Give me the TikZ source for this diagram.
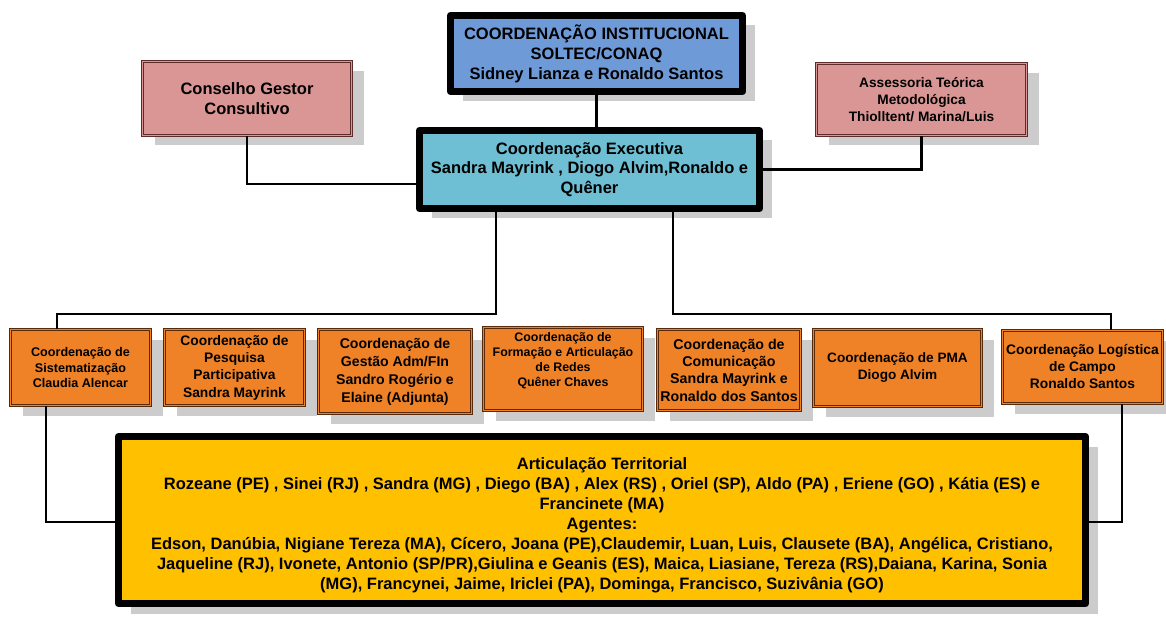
\documentclass[tikz,border=0pt]{standalone}
\usepackage{fontspec}
\setmainfont{Liberation Sans}
\usetikzlibrary{shadows}

\definecolor{instblue}{HTML}{6F9AD8}
\definecolor{execteal}{HTML}{6EBFD3}
\definecolor{conspink}{HTML}{D99694}
\definecolor{pinkedge}{HTML}{5C2B2A}
\definecolor{coordorange}{HTML}{EF8227}
\definecolor{orangeedge}{HTML}{5A2A08}
\definecolor{terryellow}{HTML}{FFC000}
\definecolor{shadowgray}{HTML}{CCCCCC}

\newcommand{\fsize}[2]{\bfseries\fontsize{#1}{#2}\selectfont}

\tikzset{
  boxshadow/.style={drop shadow={shadow xshift=12pt,shadow yshift=-10pt,fill=shadowgray,opacity=1}},
  heavybox/.style={rectangle,draw=black,line width=7pt,line join=round,inner sep=0pt,boxshadow,align=center},
  thinbox/.style={rectangle,line width=0.8pt,double distance=1.6pt,inner sep=0pt,boxshadow,align=center},
  pinkbox/.style={thinbox,draw=pinkedge,fill=conspink,double=conspink},
  orangebox/.style={thinbox,draw=orangeedge,fill=coordorange,double=coordorange},
  link/.style={draw=black,line width=2.5pt},
}

\begin{document}
\begin{tikzpicture}[x=1pt,y=-1pt]
\useasboundingbox (0,0) rectangle (1166,617);

% The upper level
\node[heavybox,fill=instblue,minimum width=292,minimum height=76,font=\fsize{16.5}{20}] (inst) at (596.5,53.5)
  {COORDENAÇÃO INSTITUCIONAL\\SOLTEC/CONAQ\\Sidney Lianza e Ronaldo Santos};
\node[pinkbox,minimum width=209,minimum height=74,font=\fsize{16.5}{20}] (cons) at (247,98.5)
  {Conselho Gestor\\Consultivo};
\node[pinkbox,minimum width=210,minimum height=72,font=\fsize{13.7}{17}] (asse) at (921.5,99.5)
  {Assessoria Teórica\\Metodológica\\Thiolltent/ Marina/Luis};
\node[heavybox,fill=execteal,minimum width=340,minimum height=78,font=\fsize{16.5}{19.5}] (exec) at (589.5,169.5)
  {Coordenação Executiva\\Sandra Mayrink , Diogo Alvim,Ronaldo e\\Quêner};

% The coordinations
\node[orangebox,minimum width=140,minimum height=76,font=\fsize{12.6}{15.5}] (sist) at (80.5,367.5)
  {Coordenação de\\Sistematização\\Claudia Alencar};
\node[orangebox,minimum width=140,minimum height=76,font=\fsize{13.8}{17.3}] (pesq) at (234.5,367.5)
  {Coordenação de\\Pesquisa\\Participativa\\Sandra Mayrink};
\node[orangebox,minimum width=153,minimum height=84,font=\fsize{14.1}{18}] (gest) at (395,371.5)
  {Coordenação de\\Gestão Adm/FIn\\Sandro Rogério e\\Elaine (Adjunta)};
\node[orangebox,minimum width=159,minimum height=83,font=\fsize{12.4}{15}] (form) at (563,369)
  {Coordenação de\\Formação e Articulação\\de Redes\\Quêner Chaves\\[4pt]\mbox{}};
\node[orangebox,minimum width=143,minimum height=81,font=\fsize{14.2}{17.3}] (comu) at (729,370)
  {Coordenação de\\Comunicação\\Sandra Mayrink e\\Ronaldo dos Santos};
\node[orangebox,minimum width=168,minimum height=77,font=\fsize{13.6}{17}] (pma) at (897.5,368)
  {Coordenação de PMA\\Diogo Alvim};
\node[orangebox,minimum width=160,minimum height=73,font=\fsize{13.8}{17}] (logi) at (1082.5,367)
  {Coordenação Logística\\de Campo\\Ronaldo Santos};

% The territorial articulation
\node[heavybox,fill=terryellow,minimum width=967,minimum height=167,font=\fsize{16.5}{20}] (terr) at (602,520)
  {\mbox{}\\[2pt]
   Articulação Territorial\\
   Rozeane (PE) , Sinei (RJ) , Sandra (MG) , Diego (BA) , Alex (RS) , Oriel (SP), Aldo (PA) , Eriene (GO) , Kátia (ES) e\\
   Francinete (MA)\\
   Agentes:\\
   Edson, Danúbia, Nigiane Tereza (MA), Cícero, Joana (PE),Claudemir, Luan, Luis, Clausete (BA), Angélica, Cristiano,\\
   Jaqueline (RJ), Ivonete, Antonio (SP/PR),Giulina e Geanis (ES), Maica, Liasiane, Tereza (RS),Daiana, Karina, Sonia\\
   (MG), Francynei, Jaime, Iriclei (PA), Dominga, Francisco, Suzivânia (GO)};

% The connectors
\coordinate (busL) at (57,314);
\coordinate (busR) at (1111,314);
\draw[link] (inst.south) -- (inst.south |- exec.north);
\draw[link] (cons.south) |- ([yshift=-14.5pt]exec.west);
\draw[link] (asse.south) |- (exec.east);
\draw[link] ([xshift=-93.5pt]exec.south) |- (busL) -- (busL |- sist.north);
\draw[link] ([xshift=83.5pt]exec.south) |- (busR) -- (busR |- logi.north);
\draw[link] ([xshift=-34.5pt]sist.south) |- ([yshift=-2pt]terr.west);
\draw[link] ([xshift=39.5pt]logi.south) |- ([yshift=-2pt]terr.east);

\end{tikzpicture}
\end{document}
